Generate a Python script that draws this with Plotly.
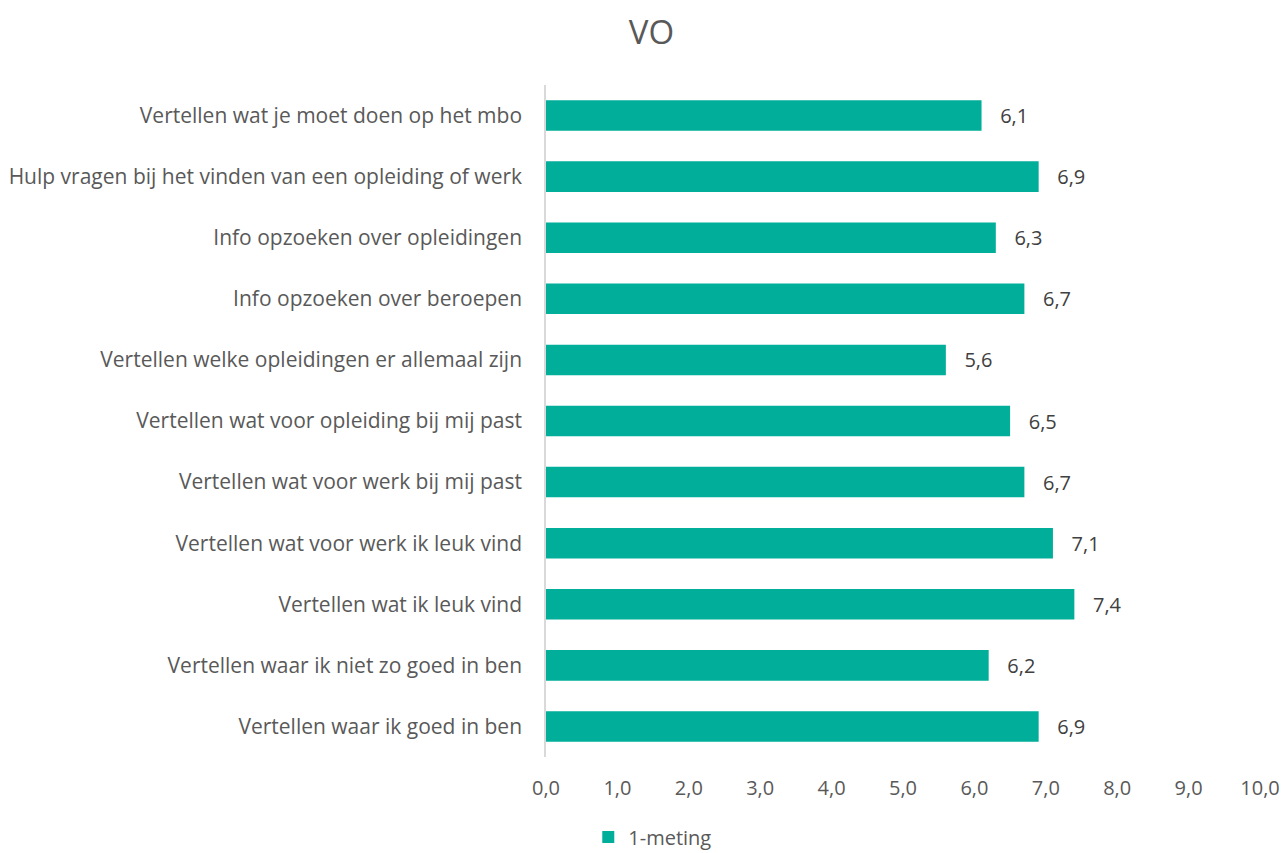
import plotly.graph_objects as go

categories = [
    "Vertellen wat je moet doen op het mbo",
    "Hulp vragen bij het vinden van een opleiding of werk",
    "Info opzoeken over opleidingen",
    "Info opzoeken over beroepen",
    "Vertellen welke opleidingen er allemaal zijn",
    "Vertellen wat voor opleiding bij mij past",
    "Vertellen wat voor werk bij mij past",
    "Vertellen wat voor werk ik leuk vind",
    "Vertellen wat ik leuk vind",
    "Vertellen waar ik niet zo goed in ben",
    "Vertellen waar ik goed in ben",
]
values = [6.1, 6.9, 6.3, 6.7, 5.6, 6.5, 6.7, 7.1, 7.4, 6.2, 6.9]
series_name = "1-meting"
tick_vals = [0, 1, 2, 3, 4, 5, 6, 7, 8, 9, 10]

FONT = "Open Sans"
TEAL = "#00AE9A"

fig = go.Figure()
fig.add_trace(go.Bar(
    x=values, y=categories, orientation="h", name=series_name,
    marker=dict(color=TEAL, line=dict(width=0)),
    texttemplate="   %{x:.1f}", textposition="outside",
    textfont=dict(family=FONT, size=20, color="#404040"),
    cliponaxis=False, showlegend=True,
))

fig.update_layout(
    width=1285, height=853,
    paper_bgcolor="white", plot_bgcolor="white",
    separators=",.",
    margin=dict(l=546, r=25, t=85, b=96, autoexpand=False),
    title=dict(text="VO", x=0.507, xanchor="center", y=0.962, yanchor="middle",
               font=dict(family=FONT, size=33, color="#595959")),
    bargap=0.5,
    font=dict(family=FONT, color="#595959"),
    xaxis=dict(range=[0, 10], tickvals=tick_vals, tickformat=".1f",
               showgrid=False, zeroline=False, showline=False,
               tickfont=dict(family=FONT, size=20, color="#595959"),
               ticks="outside", ticklen=13, tickcolor="rgba(0,0,0,0)"),
    yaxis=dict(autorange="reversed", showgrid=False, zeroline=False,
               showline=True, linecolor="#D9D9D9", linewidth=1.5,
               ticks="outside", ticklen=18, tickcolor="rgba(0,0,0,0)",
               tickfont=dict(family=FONT, size=21, color="#595959")),
    legend=dict(orientation="h", x=0.508, xanchor="center", xref="container",
                y=-0.119, yanchor="middle", yref="paper",
                font=dict(family=FONT, size=20, color="#595959"),
                itemwidth=30),
)

fig.write_html(
    "out.html",
    config={"displayModeBar": False},
    post_script="document.body.style.margin='0';document.body.style.overflow='hidden';",
)
